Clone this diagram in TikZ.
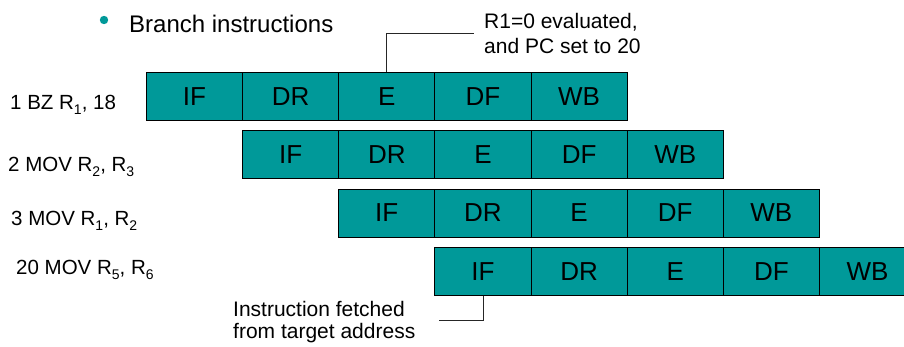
\documentclass[tikz,border=0pt]{standalone}
\usepackage{fontspec}
\setmainfont{Liberation Sans}
\definecolor{stagefill}{HTML}{009999}
% register index set lowered and smaller
\newcommand{\regidx}[1]{\raisebox{-0.28em}{\fontsize{14}{14}\selectfont #1}}
\tikzset{
  stagebox/.style={draw=black, line width=0.8pt, fill=stagefill, minimum width=96.15pt,
    minimum height=48pt, inner sep=0pt, anchor=north west,
    font=\fontsize{26}{30}\selectfont},
  rowlabel/.style={anchor=base west, inner sep=0pt, font=\fontsize{20.5}{24}\selectfont},
  notetext/.style={anchor=base west, inner sep=0pt, font=\fontsize{21}{25}\selectfont},
  noteline/.style={draw=black!85, line width=0.8pt},
}
\begin{document}
\begin{tikzpicture}[x=1pt, y=-1pt]
\useasboundingbox (0,0) rectangle (904,346);

% bullet heading
\fill[stagefill] (104,20) circle (4.2pt);
\node[anchor=base west, inner sep=0pt, font=\fontsize{24}{28}\selectfont] (head) at (129,32) {Branch instructions};

% pipeline rows: five stages each, shifted by one stage per instruction
\foreach \r/\ytop in {1/72, 2/130.3, 3/188.6, 4/247} {
  \foreach \c/\st in {1/IF, 2/DR, 3/E, 4/DF, 5/WB} {
    \node[stagebox] (r\r c\c) at ({146 + (\r + \c - 2)*96.15}, \ytop) {\st};
  }
}

% instruction labels
\node[rowlabel] (lab1) at (10,109) {1 BZ R\regidx{1}, 18};
\node[rowlabel] (lab2) at (8,171) {2 MOV R\regidx{2}, R\regidx{3}};
\node[rowlabel] (lab3) at (11,225) {3 MOV R\regidx{1}, R\regidx{2}};
\node[rowlabel] (lab4) at (16,274) {20 MOV R\regidx{5}, R\regidx{6}};

% note on the execute stage of the branch
\coordinate (ecall) at (474,33);
\draw[noteline] (r1c3.north) |- (ecall);
\node[notetext] (noteEa) at (484,28) {R1=0 evaluated,};
\node[notetext] (noteEb) at (484,53) {and PC set to 20};

% note on the fetch from the branch target
\coordinate (fcall) at (439,320);
\draw[noteline] (r4c1.south) |- (fcall);
\node[notetext] (noteFa) at (233,316) {Instruction fetched};
\node[notetext] (noteFb) at (233,338) {from target address};
\end{tikzpicture}
\end{document}
